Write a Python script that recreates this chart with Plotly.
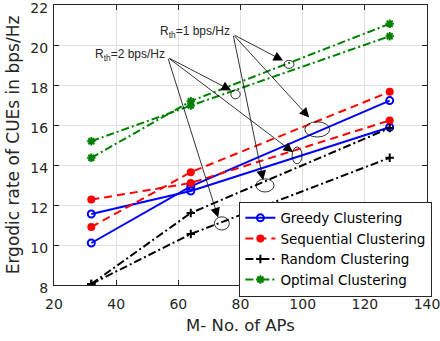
import plotly.graph_objects as go

# ---------------- data ----------------
aps = [32, 64, 128]

greedy_a = [11.55, 12.70, 15.89]      # R_th = 2 bps/Hz
greedy_b = [10.10, 12.93, 17.22]      # R_th = 1 bps/Hz
sequential_a = [12.27, 13.10, 16.23]  # R_th = 2 bps/Hz
sequential_b = [10.90, 13.64, 17.66]  # R_th = 1 bps/Hz
random_a = [8.05, 10.55, 14.36]       # R_th = 2 bps/Hz
random_b = [8.05, 11.60, 15.85]       # R_th = 1 bps/Hz
optimal_a = [15.19, 16.97, 20.44]     # R_th = 2 bps/Hz
optimal_b = [14.36, 17.19, 21.06]     # R_th = 1 bps/Hz

x_ticks = [20, 40, 60, 80, 100, 120, 140]
y_ticks = [8, 10, 12, 14, 16, 18, 20, 22]

series = [
    ("Greedy Clustering", greedy_b, greedy_a, "#0000ff", "solid", "circle-open", 7, 2),
    ("Sequential Clustering", sequential_b, sequential_a, "#ff0000", "8px,5px", "circle", 8, 0),
    ("Random Clustering", random_b, random_a, "#000000", "8px,3px,2px,3px", "cross-thin-open", 6, 2),
    ("Optimal Clustering", optimal_b, optimal_a, "#008000", "8px,3px,2px,3px", "asterisk-open", 7, 2),
]

# annotation geometry (data coordinates)
rth1_origin = (77.6, 20.53)
rth2_origin = (56.6, 19.38)
rth1_targets = [((95.6, 19.03), (1.6, 0.20), (93.7, 19.22)),
                ((104.7, 15.78), (4.0, 0.38), (102.1, 16.38)),
                ((87.9, 12.98), (2.9, 0.33), (87.3, 13.24))]
rth2_targets = [((78.4, 17.53), (1.5, 0.22), (77.0, 17.73)),
                ((98.2, 14.48), (1.6, 0.42), (96.9, 14.64)),
                ((74.0, 11.08), (2.4, 0.33), (72.8, 11.38))]

fig = go.Figure()
for name, ya, yb, color, dash, sym, msize, mlw in series:
    for i, yv in enumerate([ya, yb]):
        fig.add_trace(go.Scatter(
            x=aps, y=yv, mode="lines+markers", name=name,
            legendgroup=name, showlegend=(i == 0),
            line=dict(color=color, width=2, dash=dash),
            marker=dict(symbol=sym, size=msize, color=color,
                        line=dict(color=color, width=mlw)),
        ))

shapes = []
annotations = []
for origin, targets in [(rth1_origin, rth1_targets), (rth2_origin, rth2_targets)]:
    for (c, r, tip) in targets:
        shapes.append(dict(type="circle", xref="x", yref="y",
                           x0=c[0] - r[0], x1=c[0] + r[0],
                           y0=c[1] - r[1], y1=c[1] + r[1],
                           line=dict(color="black", width=0.8)))
        annotations.append(dict(x=tip[0], y=tip[1], ax=origin[0], ay=origin[1],
                                xref="x", yref="y", axref="x", ayref="y",
                                text="", showarrow=True, arrowhead=2,
                                arrowsize=2.4, arrowwidth=0.8, arrowcolor="black"))

annotations.append(dict(x=77.3, y=20.63, xref="x", yref="y", xanchor="right",
                        yanchor="middle", showarrow=False,
                        text="R<sub>th</sub>=1 bps/Hz",
                        font=dict(family="Liberation Sans", size=12, color="#262626")))
annotations.append(dict(x=56.5, y=19.48, xref="x", yref="y", xanchor="right",
                        yanchor="middle", showarrow=False,
                        text="R<sub>th</sub>=2 bps/Hz",
                        font=dict(family="Liberation Sans", size=12, color="#262626")))

axis_common = dict(showgrid=True, gridcolor="#e0e0e0", gridwidth=1, zeroline=False,
                   showline=True, linecolor="#262626", linewidth=1, mirror="ticks",
                   ticks="inside", ticklen=5, tickcolor="#262626", automargin=False,
                   ticklabeloverflow="allow",
                   tickfont=dict(family="DejaVu Sans", size=14, color="#262626"))

fig.update_layout(
    width=440, height=341,
    margin=dict(l=54, r=13, t=5, b=56, autoexpand=False),
    paper_bgcolor="white", plot_bgcolor="white",
    font=dict(family="DejaVu Sans", color="#262626"),
    xaxis=dict(range=[20, 140], tickvals=x_ticks, ticklabelstandoff=6,
               title=dict(text="M- No. of APs", font=dict(size=16.5), standoff=8),
               **axis_common),
    yaxis=dict(range=[8, 22], tickvals=y_ticks, ticklabelstandoff=2, ticklabelshift=3,
               title=dict(text="Ergodic rate of CUEs in bps/Hz", font=dict(size=17), standoff=6),
               **axis_common),
    legend=dict(x=0.497, y=0.298, xanchor="left", yanchor="top",
                bgcolor="white", bordercolor="#262626", borderwidth=1,
                font=dict(family="DejaVu Sans", size=13.5, color="#000000"),
                tracegroupgap=0, itemwidth=30),
    shapes=shapes,
    annotations=annotations,
)

fig.write_html("out.html", config={"displayModeBar": False},
               post_script="document.body.style.margin='0';document.body.style.padding='0';")
